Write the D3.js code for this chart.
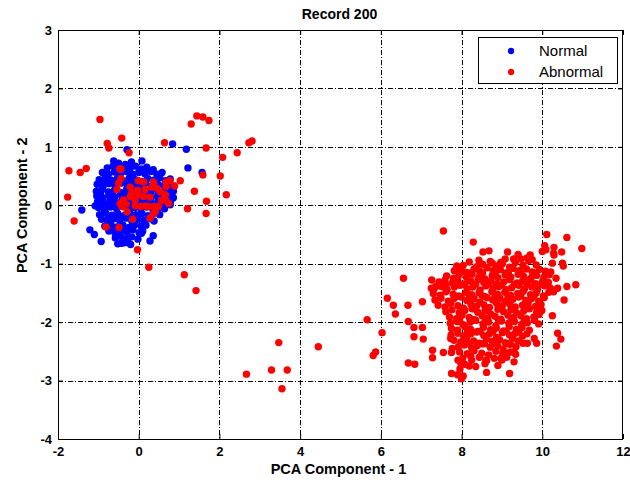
<!DOCTYPE html>
<html>
<head>
<meta charset="utf-8">
<script src="https://cdn.jsdelivr.net/npm/d3@7"></script>
<style>
  body { margin: 0; background: #fff; }
  text { font-family: "Liberation Sans", Arial, sans-serif; fill: #000; }
</style>
</head>
<body>
<script>
// values (data units)
const xTicks = [-2, 0, 2, 4, 6, 8, 10, 12];
const yTicks = [-4, -3, -2, -1, 0, 1, 2, 3];
const legendLabels = ["Normal", "Abnormal"];
const legendColors = ["#0000ff", "#ff0000"];

// blue cluster around the origin
const normalPoints = [
  [-0.62,0.76],[-0.50,0.72],[-0.33,0.70],[-0.18,0.74],[0.08,0.76],
  [-0.78,0.64],[-0.64,0.67],[-0.50,0.62],[-0.36,0.66],[-0.22,0.63],[-0.08,0.67],[0.06,0.62],[0.20,0.65],[0.36,0.61],
  [-0.90,0.56],[-0.75,0.53],[-0.60,0.57],[-0.45,0.54],[-0.30,0.58],[-0.15,0.53],[0.00,0.56],[0.15,0.54],[0.30,0.58],[0.45,0.53],[0.58,0.56],
  [-0.98,0.44],[-0.83,0.47],[-0.68,0.43],[-0.53,0.46],[-0.38,0.42],[-0.23,0.47],[-0.08,0.44],[0.07,0.41],[0.22,0.46],[0.37,0.43],[0.52,0.47],[0.66,0.42],[0.78,0.45],
  [-1.03,0.36],[-0.88,0.33],[-0.73,0.37],[-0.58,0.34],[-0.43,0.38],[-0.28,0.33],[-0.13,0.36],[0.02,0.34],[0.17,0.38],[0.32,0.33],[0.47,0.36],[0.62,0.34],[0.76,0.37],[0.86,0.33],
  [-1.05,0.24],[-0.90,0.27],[-0.75,0.23],[-0.60,0.26],[-0.45,0.22],[-0.30,0.27],[-0.15,0.24],[0.00,0.21],[0.15,0.26],[0.30,0.23],[0.45,0.27],[0.60,0.22],[0.74,0.25],[0.86,0.24],
  [-1.04,0.16],[-0.89,0.13],[-0.74,0.17],[-0.59,0.14],[-0.44,0.18],[-0.29,0.13],[-0.14,0.16],[0.01,0.14],[0.16,0.18],[0.31,0.13],[0.46,0.16],[0.61,0.14],[0.75,0.17],[0.86,0.13],
  [-1.02,0.06],[-0.87,0.03],[-0.72,0.07],[-0.57,0.04],[-0.42,0.08],[-0.27,0.03],[-0.12,0.06],[0.03,0.04],[0.18,0.08],[0.33,0.03],[0.48,0.06],[0.63,0.04],[0.79,0.07],
  [-1.00,-0.04],[-0.85,-0.07],[-0.70,-0.03],[-0.55,-0.06],[-0.40,-0.02],[-0.25,-0.07],[-0.10,-0.04],[0.05,-0.06],[0.20,-0.03],[0.35,-0.07],[0.50,-0.04],[0.64,-0.06],
  [-0.97,-0.16],[-0.82,-0.13],[-0.67,-0.17],[-0.52,-0.14],[-0.37,-0.18],[-0.22,-0.13],[-0.07,-0.16],[0.08,-0.14],[0.23,-0.18],[0.38,-0.13],[0.52,-0.16],
  [-0.92,-0.24],[-0.77,-0.27],[-0.62,-0.23],[-0.47,-0.26],[-0.32,-0.22],[-0.17,-0.27],[-0.02,-0.24],[0.13,-0.26],[0.28,-0.23],[0.38,-0.27],
  [-0.84,-0.36],[-0.69,-0.33],[-0.54,-0.37],[-0.39,-0.34],[-0.24,-0.38],[-0.09,-0.33],[0.06,-0.36],[0.18,-0.34],
  [-0.74,-0.44],[-0.59,-0.47],[-0.44,-0.43],[-0.29,-0.46],[-0.14,-0.42],[0.01,-0.47],[0.10,-0.44],
  [-0.58,-0.56],[-0.45,-0.53],[-0.31,-0.57],[-0.17,-0.54],[-0.02,-0.58],
  [-0.52,-0.66],[-0.36,-0.64],[-0.20,-0.67],
  // filling the holes in the middle
  [-0.85,0.40],[-0.55,0.40],[-0.25,0.40],[0.05,0.39],
  [-0.95,0.20],[-0.65,0.19],[-0.35,0.20],[-0.05,0.19],[0.25,0.20],
  [-0.80,0.00],[-0.50,0.00],[-0.20,0.01],[0.10,0.00],
  [-0.75,-0.20],[-0.45,-0.20],[-0.15,-0.21],
  [-0.60,-0.40],[-0.30,-0.40],
  // stray blue ones
  [-1.41,-0.08],[-1.08,-0.01],[-0.93,-0.62],[0.28,-0.61],[0.36,-0.52],[-1.21,-0.42],[-1.10,-0.50],
  [-0.47,-0.48],[-0.43,-0.65],[-0.26,-0.64],[0.07,-0.48],
  [-0.29,0.95],[0.84,1.05],[1.18,0.96],[1.22,0.64],[1.57,0.56],
  [0.78,0.29],[0.82,0.14],[0.78,0.01]
];

// red: ones mixed into the blue cluster, stray ones, and the big cluster at (9,-1.8)
const abnormalPoints = [
  [-0.44,0.62],[-0.44,0.46],[-0.50,0.38],[-0.54,0.27],[-0.21,0.31],[-0.01,0.42],[0.12,0.40],[-0.03,0.26],
  [0.16,0.27],[0.33,0.31],[0.45,0.29],[0.37,0.38],[0.53,0.23],[0.66,0.18],[0.68,0.32],[0.78,0.42],
  [0.89,0.33],[1.03,0.42],[-0.21,0.15],[-0.09,0.09],[-0.01,0.18],[0.12,0.15],[0.28,0.14],[0.24,-0.02],
  [0.37,-0.02],[0.41,-0.11],[0.49,-0.02],[0.66,0.09],[0.74,0.03],[0.57,0.09],[-0.38,0.09],[-0.46,0.03],
  [-0.42,-0.02],[-0.29,-0.11],[-0.15,-0.24],[-0.49,-0.38],[-0.81,-0.37],[0.05,-0.02],[-0.09,-0.01],[0.16,-0.01],
  [0.28,-0.22],[0.37,-0.14],[-0.31,0.02],[-0.17,0.21],[0.36,0.40],[-0.47,0.62],[0.68,0.40],
  // strays
  [-0.96,1.47],[-0.42,1.15],[-0.78,1.06],[-0.74,0.98],[-0.24,0.90],[0.64,1.07],[1.30,1.39],[1.44,1.53],
  [1.59,1.51],[1.74,1.45],[1.67,0.98],[2.08,0.82],[2.44,0.90],[2.73,1.07],[2.81,1.10],[-1.73,0.59],
  [-1.45,0.56],[-1.30,0.63],[-1.76,0.14],[-1.60,-0.27],[1.59,0.52],[2.02,0.50],[1.38,0.24],[2.17,0.18],
  [1.68,0.07],[1.21,-0.06],[1.67,-0.14],[-0.03,-0.76],[0.25,-1.06],[1.13,-1.19],[1.42,-1.46],
  [3.47,-2.35],[4.45,-2.42],[2.67,-2.89],[3.29,-2.82],[3.68,-2.82],[3.55,-3.14],
  [6.03,-2.18],[5.87,-2.51],[5.81,-2.57],[6.68,-2.70],[5.66,-1.96],[6.68,-1.99],
  [7.55,-0.44],[8.29,-0.63],[6.56,-1.25],[6.16,-1.59],[6.31,-1.71],[6.36,-1.86],[6.67,-1.71],[7.03,-1.65],
  [7.26,-1.28],[7.25,-1.42],[6.82,-2.09],[7.03,-2.09],[6.82,-2.25],[7.05,-2.29],[6.84,-2.72],[7.28,-2.48],
  [7.28,-2.61],[7.55,-2.52],[7.75,-2.52],[7.75,-2.88],[7.90,-2.90],[8.00,-2.97],[8.19,-2.75],[8.62,-2.86],
  [9.19,-2.88],[10.11,-0.50],[10.61,-0.55],[10.98,-0.74],[10.83,-1.36],[10.61,-1.39],[10.54,-1.62],
  [10.25,-1.89],[10.38,-2.19],[10.46,-2.29],[10.35,-2.41],[9.86,-2.36],[10.50,-0.99],[10.52,-1.04],
  [8.53,-0.80],[8.68,-0.78],[9.14,-0.80],[9.40,-0.84],[9.70,-0.85],[10.06,-0.69],[10.00,-0.79],[10.09,-0.76],
  [10.29,-0.72],[10.29,-0.85],[10.48,-0.80],[10.25,-0.99],[9.08,-0.92],[9.29,-0.92],[8.43,-0.94],[8.76,-0.99],
  [8.97,-0.98],[7.88,-1.04],[7.99,-1.11],[7.36,-1.39],[7.61,-1.36],[9.62,-0.90],[9.75,-0.93],[9.47,-0.92],
  [10.28,-0.82],[10.21,-1.14],[10.34,-1.25],[10.28,-1.48],[10.38,-1.42],
  [7.98,-2.70],[8.23,-2.59],[8.60,-2.65],[8.97,-2.62],[9.14,-2.53],[9.30,-2.51],[9.63,-2.36],[9.80,-2.28],
  [7.73,-2.28],[7.77,-2.45],[7.91,-2.65],[7.96,-2.80],[8.04,-2.92],
  // main cluster
  [8.04,-1.03],[8.19,-0.97],[8.37,-1.05],[8.52,-1.01],[8.71,-0.96],[8.86,-1.04],[9.01,-1.00],[9.19,-1.06],[9.33,-0.98],[9.52,-1.03],[9.66,-0.95],[9.85,-1.02],
  [7.82,-1.12],[7.98,-1.08],[8.12,-1.15],[8.31,-1.09],[8.45,-1.13],[8.63,-1.07],[8.78,-1.12],[8.96,-1.10],[9.10,-1.16],[9.28,-1.08],[9.43,-1.12],[9.61,-1.09],[9.75,-1.14],[9.93,-1.10],[10.08,-1.13],
  [7.63,-1.21],[7.80,-1.25],[7.94,-1.19],[8.12,-1.23],[8.26,-1.18],[8.44,-1.22],[8.58,-1.26],[8.76,-1.20],[8.90,-1.24],[9.08,-1.19],[9.22,-1.23],[9.40,-1.18],[9.54,-1.22],[9.72,-1.25],[9.86,-1.20],[10.04,-1.23],[10.17,-1.19],
  [7.44,-1.31],[7.59,-1.28],[7.77,-1.33],[7.91,-1.29],[8.09,-1.34],[8.23,-1.30],[8.41,-1.27],[8.55,-1.32],[8.73,-1.29],[8.87,-1.35],[9.05,-1.31],[9.19,-1.27],[9.37,-1.33],[9.51,-1.30],[9.69,-1.28],[9.83,-1.34],[10.01,-1.30],[10.15,-1.32],
  [7.33,-1.42],[7.50,-1.39],[7.64,-1.44],[7.82,-1.40],[7.96,-1.37],[8.14,-1.43],[8.28,-1.40],[8.46,-1.45],[8.60,-1.38],[8.78,-1.42],[8.92,-1.39],[9.10,-1.44],[9.24,-1.41],[9.42,-1.37],[9.56,-1.43],[9.74,-1.40],[9.88,-1.44],[10.06,-1.38],[10.20,-1.42],
  [7.30,-1.51],[7.47,-1.54],[7.61,-1.48],[7.79,-1.52],[7.93,-1.55],[8.11,-1.49],[8.25,-1.53],[8.43,-1.50],[8.57,-1.56],[8.75,-1.48],[8.89,-1.52],[9.07,-1.49],[9.21,-1.54],[9.39,-1.51],[9.53,-1.47],[9.71,-1.53],[9.85,-1.50],[10.03,-1.55],[10.16,-1.49],
  [7.34,-1.62],[7.49,-1.59],[7.67,-1.64],[7.81,-1.60],[7.99,-1.57],[8.13,-1.63],[8.31,-1.60],[8.45,-1.66],[8.63,-1.58],[8.77,-1.62],[8.95,-1.59],[9.09,-1.64],[9.27,-1.61],[9.41,-1.57],[9.59,-1.63],[9.73,-1.60],[9.91,-1.64],[10.05,-1.58],
  [7.42,-1.71],[7.59,-1.74],[7.73,-1.68],[7.91,-1.72],[8.05,-1.76],[8.23,-1.69],[8.37,-1.73],[8.55,-1.70],[8.69,-1.75],[8.87,-1.68],[9.01,-1.72],[9.19,-1.69],[9.33,-1.74],[9.51,-1.71],[9.65,-1.67],[9.83,-1.73],[9.97,-1.70],
  [7.61,-1.82],[7.76,-1.79],[7.94,-1.84],[8.08,-1.80],[8.26,-1.77],[8.40,-1.83],[8.58,-1.80],[8.72,-1.86],[8.90,-1.78],[9.04,-1.82],[9.22,-1.79],[9.36,-1.84],[9.54,-1.81],[9.68,-1.77],[9.86,-1.83],[9.99,-1.80],
  [7.70,-1.91],[7.87,-1.94],[8.01,-1.88],[8.19,-1.92],[8.33,-1.96],[8.51,-1.89],[8.65,-1.93],[8.83,-1.90],[8.97,-1.95],[9.15,-1.88],[9.29,-1.92],[9.47,-1.89],[9.61,-1.94],[9.79,-1.91],[9.92,-1.87],
  [7.72,-2.02],[7.89,-1.99],[8.03,-2.04],[8.21,-2.00],[8.35,-1.97],[8.53,-2.03],[8.67,-2.00],[8.85,-2.06],[8.99,-1.98],[9.17,-2.02],[9.31,-1.99],[9.49,-2.04],[9.63,-2.01],[9.81,-1.97],[9.91,-2.03],
  [7.75,-2.11],[7.90,-2.14],[8.08,-2.08],[8.22,-2.12],[8.40,-2.16],[8.54,-2.09],[8.72,-2.13],[8.86,-2.10],[9.04,-2.15],[9.18,-2.08],[9.36,-2.12],[9.50,-2.09],[9.68,-2.14],
  [7.74,-2.22],[7.91,-2.19],[8.05,-2.24],[8.23,-2.20],[8.37,-2.17],[8.55,-2.23],[8.69,-2.20],[8.87,-2.26],[9.01,-2.18],[9.19,-2.22],[9.33,-2.19],[9.51,-2.24],[9.62,-2.20],
  [7.81,-2.31],[7.98,-2.34],[8.12,-2.28],[8.30,-2.32],[8.44,-2.36],[8.62,-2.29],[8.76,-2.33],[8.94,-2.30],[9.08,-2.35],[9.26,-2.28],[9.40,-2.32],[9.52,-2.36],
  [7.92,-2.42],[8.07,-2.39],[8.25,-2.44],[8.39,-2.40],[8.57,-2.37],[8.71,-2.43],[8.89,-2.40],[9.03,-2.46],[9.21,-2.38],[9.35,-2.42],
  [7.95,-2.51],[8.14,-2.54],[8.31,-2.49],[8.50,-2.53],[8.67,-2.56],[8.85,-2.50],[9.02,-2.54],[9.21,-2.51],[9.34,-2.55],
  [8.03,-2.62],[8.25,-2.65],[8.44,-2.60],[8.62,-2.66],[8.81,-2.62],[9.00,-2.65],[9.12,-2.60],
  [8.08,-2.72],[8.35,-2.76],[8.58,-2.71],[8.90,-2.74],[9.30,-2.68],
  // denser middle
  [8.20,-1.16],[8.52,-1.16],[8.84,-1.16],[9.16,-1.16],[9.48,-1.17],[9.80,-1.16],
  [8.03,-1.36],[8.35,-1.35],[8.67,-1.35],[8.99,-1.36],[9.31,-1.36],[9.63,-1.35],[9.95,-1.36],
  [7.87,-1.56],[8.19,-1.56],[8.51,-1.55],[8.83,-1.56],[9.15,-1.56],[9.47,-1.55],[9.79,-1.56],
  [7.99,-1.76],[8.31,-1.77],[8.63,-1.76],[8.95,-1.76],[9.27,-1.77],[9.59,-1.76],[9.91,-1.77],
  [7.95,-1.96],[8.27,-1.96],[8.59,-1.97],[8.91,-1.96],[9.23,-1.96],[9.55,-1.97],
  [8.14,-2.17],[8.46,-2.16],[8.78,-2.17],[9.10,-2.16],[9.42,-2.17],
  [8.19,-2.37],[8.51,-2.37],[8.83,-2.36],[9.15,-2.37]
];

let margin = null, width = null, height = null;
let svg = null;
let x, y = null; // scales
const dotRadius = 3.7;

setupCanvasSize();
appendSvg("body");
setupXScale();
setupYScale();
appendGrid();
appendPoints();
appendFrameAndTicks();
appendXAxis();
appendYAxis();
appendTitle();
appendLegend();

function setupCanvasSize() {
  margin = {top: 30, left: 58, bottom: 43, right: 7};
  width = 630 - margin.left - margin.right;
  height = 482 - margin.top - margin.bottom;
}

function appendSvg(domElement) {
  svg = d3.select(domElement).append("svg")
    .attr("width", width + margin.left + margin.right)
    .attr("height", height + margin.top + margin.bottom)
    .append("g")
    .attr("transform", `translate(${margin.left}, ${margin.top})`);
}

function setupXScale() {
  x = d3.scaleLinear().domain([-2, 12]).range([0, width]);
}

function setupYScale() {
  y = d3.scaleLinear().domain([-4, 3]).range([height, 0]);
}

// dash-dot grid, behind the dots
function appendGrid() {
  const grid = svg.append("g").attr("class", "grid")
    .attr("stroke", "#000").attr("stroke-width", 1)
    .attr("stroke-dasharray", "5,2,1,2");

  grid.selectAll(".vx").data(xTicks.slice(1, -1)).enter()
    .append("line")
    .attr("x1", d => Math.round(x(d)) + 0.5).attr("x2", d => Math.round(x(d)) + 0.5)
    .attr("y1", 0).attr("y2", height);

  grid.selectAll(".hy").data(yTicks.slice(1, -1)).enter()
    .append("line")
    .attr("y1", d => Math.round(y(d)) + 0.5).attr("y2", d => Math.round(y(d)) + 0.5)
    .attr("x1", 0).attr("x2", width);
}

function appendPoints() {
  // normal first, abnormal drawn on top
  svg.append("g").selectAll("circle")
    .data(normalPoints).enter()
    .append("circle")
    .attr("cx", d => x(d[0]))
    .attr("cy", d => y(d[1]))
    .attr("r", dotRadius)
    .style("fill", legendColors[0]);

  svg.append("g").selectAll("circle")
    .data(abnormalPoints).enter()
    .append("circle")
    .attr("cx", d => x(d[0]))
    .attr("cy", d => y(d[1]))
    .attr("r", dotRadius)
    .style("fill", legendColors[1]);
}

function appendFrameAndTicks() {
  svg.append("rect")
    .attr("x", 0.5).attr("y", 0.5)
    .attr("width", width - 1).attr("height", height)
    .attr("fill", "none").attr("stroke", "#000").attr("stroke-width", 1);

  // short ticks pointing inwards on all four sides
  svg.append("g").attr("transform", `translate(0, ${height})`)
    .call(d3.axisBottom(x).tickValues(xTicks).tickSize(-5).tickFormat(""));
  svg.append("g")
    .call(d3.axisTop(x).tickValues(xTicks).tickSize(-5).tickFormat(""));
  svg.append("g")
    .call(d3.axisLeft(y).tickValues(yTicks).tickSize(-5).tickFormat(""));
  svg.append("g").attr("transform", `translate(${width}, 0)`)
    .call(d3.axisRight(y).tickValues(yTicks).tickSize(-5).tickFormat(""));
  svg.selectAll(".domain").remove();
}

function appendXAxis() {
  const ax = svg.append("g")
    .attr("transform", `translate(0, ${height})`)
    .call(d3.axisBottom(x).tickValues(xTicks).tickSize(0).tickPadding(8)
      .tickFormat(d => String(d)));
  ax.select(".domain").remove();
  ax.selectAll("text").style("font-size", "13px").style("font-weight", "bold");

  svg.append("text")
    .attr("x", width / 2 - 2)
    .attr("y", height + 35)
    .style("text-anchor", "middle")
    .style("font-size", "14.5px")
    .style("font-weight", "bold")
    .text("PCA Component - 1");
}

function appendYAxis() {
  const ay = svg.append("g")
    .call(d3.axisLeft(y).tickValues(yTicks).tickSize(0).tickPadding(6)
      .tickFormat(d => String(d)));
  ay.select(".domain").remove();
  ay.selectAll("text").style("font-size", "13px").style("font-weight", "bold");

  svg.append("text")
    .attr("transform", `translate(${-31}, ${y(0)}) rotate(-90)`)
    .style("text-anchor", "middle")
    .style("font-size", "14.5px")
    .style("font-weight", "bold")
    .text("PCA Component - 2");
}

function appendTitle() {
  svg.append("text")
    .attr("x", width / 2 - 1)
    .attr("y", -11)
    .style("text-anchor", "middle")
    .style("font-size", "14px")
    .style("font-weight", "bold")
    .text("Record 200");
}

function appendLegend() {
  const lg = svg.append("g").attr("transform", `translate(${width - 145}, 7)`);
  lg.append("rect")
    .attr("x", 0.5).attr("y", 0.5)
    .attr("width", 139).attr("height", 46)
    .attr("fill", "#fff").attr("stroke", "#000");

  const rows = lg.selectAll(".entry").data(legendLabels).enter()
    .append("g").attr("transform", (d, i) => `translate(0, ${14 + i * 21})`);
  rows.append("circle").attr("cx", 33).attr("cy", 0).attr("r", 3.2)
    .style("fill", (d, i) => legendColors[i]);
  rows.append("text").attr("x", 61).attr("y", 5)
    .style("font-size", "15px")
    .text(d => d);
}
</script>
</body>
</html>
